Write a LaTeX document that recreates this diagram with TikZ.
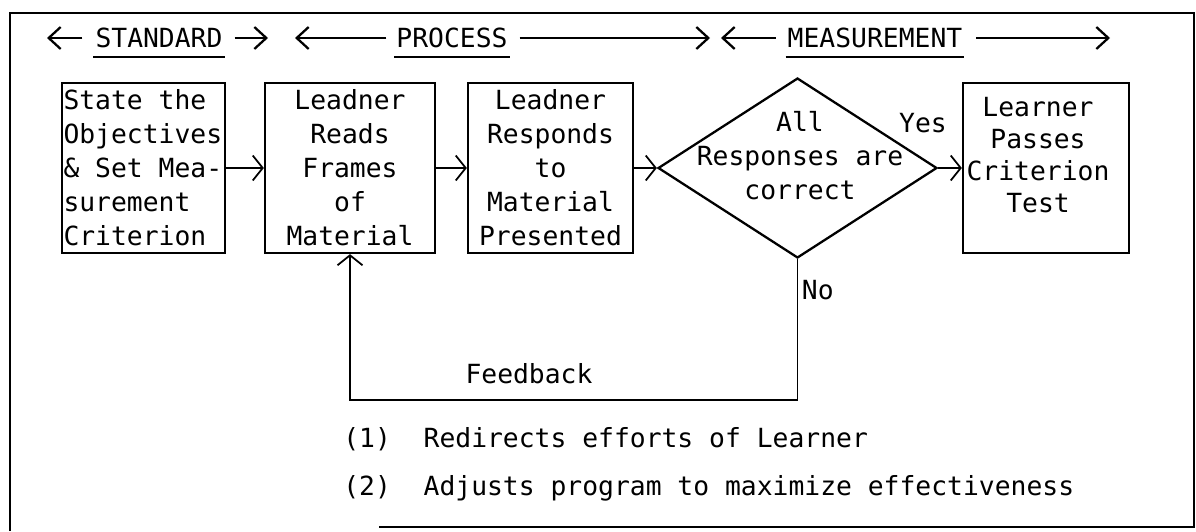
\documentclass[tikz,border=0pt]{standalone}
\usepackage{fontspec}
\usepackage{tikz}
\usetikzlibrary{positioning}
\usetikzlibrary{shapes.geometric, arrows.meta}
\newfontfamily\typefont[WordSpace={1,0,0}]{DejaVu Sans Mono}
\newcommand{\diagfont}{\typefont\fontsize{15pt}{19.4pt}\selectfont}

\begin{document}
\begin{tikzpicture}[x=0.02cm,y=-0.02cm,
  every node/.style={font=\diagfont},
  box/.style={draw,rectangle,line width=1.3pt,minimum height=3.4cm,inner xsep=0.03cm,inner ysep=0pt},
  decision/.style={draw,diamond,line width=1.3pt,inner sep=0pt,minimum width=5.58cm,minimum height=3.6cm},
  flow/.style={line width=1pt,-{Straight Barb[length=0.2cm,width=0.5cm]}},
  hdr/.style={line width=1.3pt,-{Straight Barb[length=0.24cm,width=0.44cm]}},
  heading/.style={inner xsep=1pt,inner ysep=5pt}]
\useasboundingbox (0,0) rectangle (1196,531);
\draw[line width=1.4pt] (10,531) -- (10,13) -- (1194,13) -- (1194,527) -- (379,527);

\node[heading] (std) at (159,38) {STANDARD};
\node[heading] (proc) at (452,38) {PROCESS};
\node[heading] (meas) at (875,38) {MEASUREMENT};
\draw[line width=1pt] (std.south west) -- (std.south east);
\draw[line width=1pt] (proc.south west) -- (proc.south east);
\draw[line width=1pt] (meas.south west) -- (meas.south east);
\coordinate (stdL) at (47,38);
\coordinate (stdR) at (268,38);
\coordinate (procL) at (295,38);
\coordinate (procR) at (710,38);
\coordinate (measL) at (721,38);
\coordinate (measR) at (1110,38);
\draw[hdr] ([xshift=-0.22cm]std.west) -- (stdL);
\draw[hdr] ([xshift=0.2cm]std.east) -- (stdR);
\draw[hdr] ([xshift=-0.16cm]proc.west) -- (procL);
\draw[hdr] ([xshift=0.2cm]proc.east) -- (procR);
\draw[hdr] ([xshift=-0.2cm]meas.west) -- (measL);
\draw[hdr] ([xshift=0.24cm]meas.east) -- (measR);

\node[box,minimum width=3.26cm,text width=3.2cm,align=flush left] (b1) at (143.5,168) {State the\\Objectives\\\& Set Mea-\\surement\\Criterion};
\node[box,minimum width=3.4cm,text width=2.6cm,align=center] (b2) at (350,168) {Leadner\\Reads\\Frames\\of\\Material};
\node[box,minimum width=3.3cm,text width=2.9cm,align=center] (b3) at (550.5,168) {Leadner\\Responds\\to\\Material\\Presented};
\node[decision] (dec) at (797.5,168) {};
\node[align=center] (dectxt) at (800,156) {All\\Responses are\\correct};
\node (yes) at (923,123) {Yes};
\node[box,minimum width=3.32cm] (b5) at (1046,168) {};
\node[align=center,inner sep=0pt,font=\typefont\fontsize{15pt}{18.2pt}\selectfont,below=0.3cm of b5.north,xshift=-0.16cm] (b5txt) {Learner\\Passes\\Criterion\\Test};

\draw[flow] (b1) -- (b2);
\draw[flow] (b2) -- (b3);
\draw[flow] (b3) -- (dec.west);
\draw[flow] (dec.east) -- (b5);
\draw[flow] (dec.south) -- node[pos=0.22,right,inner xsep=2pt] (no) {No} ++(0,141) -| node[pos=0.3,above=0.2cm] (fb) {Feedback} (b2.south);

\node[anchor=base west,inner sep=0pt] (n1) at (343,447) {(1)};
\node[base right=0.64cm of n1,inner sep=0pt] (t1) {Redirects efforts of Learner};
\node[anchor=base west,inner sep=0pt] (n2) at (343,495) {(2)};
\node[base right=0.64cm of n2,inner sep=0pt] (t2) {Adjusts program to maximize effectiveness};

\end{tikzpicture}
\end{document}
